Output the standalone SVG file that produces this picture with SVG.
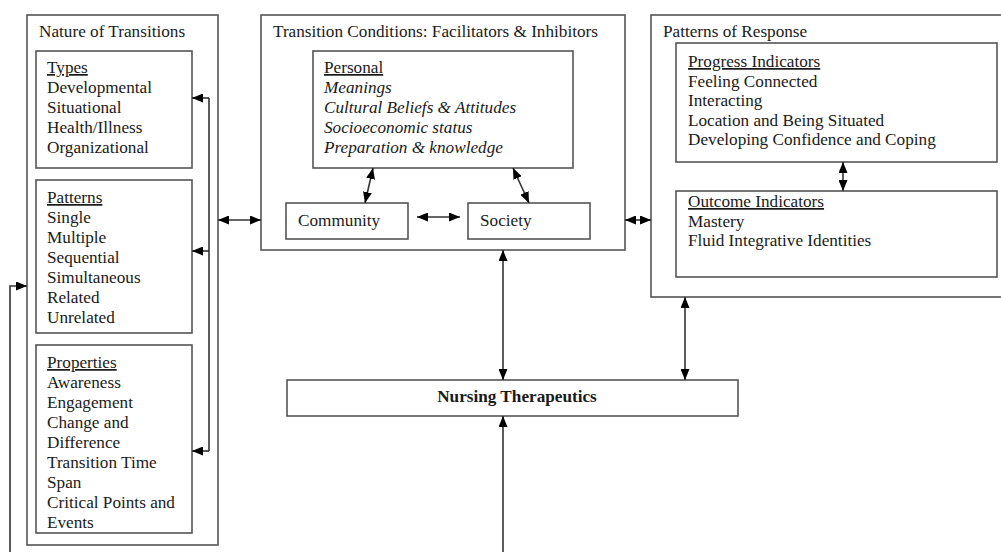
<svg xmlns="http://www.w3.org/2000/svg" width="1001" height="552" viewBox="0 0 1001 552">
<style>
text{font-family:"Liberation Serif","Times New Roman",serif;font-size:17.2px;fill:#1a1a1a}
.box{fill:#fff;stroke:#555;stroke-width:1.6}
.u{text-decoration:underline}
.it{font-style:italic}
.b{font-weight:bold}
.c line,.c path{stroke:#333;stroke-width:1.6;fill:none}
</style>
<defs>
<marker id="ah" viewBox="0 0 11 9" refX="11" refY="4.5" markerWidth="11" markerHeight="9" markerUnits="userSpaceOnUse" orient="auto-start-reverse">
<path d="M0,0 L11,4.5 L0,9 z" fill="#000"/>
</marker>
</defs>
<rect width="1001" height="552" fill="#fff"/>

<g id="nature">
<rect class="box" x="27" y="15" width="191" height="530"/>
<text x="39" y="37">Nature of Transitions</text>
</g>
<g id="types">
<rect class="box" x="36" y="51" width="156" height="117"/>
<text x="47" y="73"><tspan class="u">Types</tspan><tspan x="47" dy="20">Developmental</tspan><tspan x="47" dy="20">Situational</tspan><tspan x="47" dy="20">Health/Illness</tspan><tspan x="47" dy="20">Organizational</tspan></text>
</g>
<g id="patterns">
<rect class="box" x="36" y="180" width="156" height="153"/>
<text x="47" y="203"><tspan class="u">Patterns</tspan><tspan x="47" dy="20">Single</tspan><tspan x="47" dy="20">Multiple</tspan><tspan x="47" dy="20">Sequential</tspan><tspan x="47" dy="20">Simultaneous</tspan><tspan x="47" dy="20">Related</tspan><tspan x="47" dy="20">Unrelated</tspan></text>
</g>
<g id="properties">
<rect class="box" x="36" y="345" width="156" height="188"/>
<text x="47" y="368"><tspan class="u">Properties</tspan><tspan x="47" dy="20">Awareness</tspan><tspan x="47" dy="20">Engagement</tspan><tspan x="47" dy="20">Change and</tspan><tspan x="47" dy="20">Difference</tspan><tspan x="47" dy="20">Transition Time</tspan><tspan x="47" dy="20">Span</tspan><tspan x="47" dy="20">Critical Points and</tspan><tspan x="47" dy="20">Events</tspan></text>
</g>

<g id="conditions">
<rect class="box" x="261" y="15" width="364" height="235"/>
<text x="273" y="37">Transition Conditions: Facilitators &amp; Inhibitors</text>
</g>
<g id="personal">
<rect class="box" x="313" y="51" width="260" height="117"/>
<text x="324" y="73"><tspan class="u">Personal</tspan><tspan class="it" x="324" dy="20">Meanings</tspan><tspan class="it" x="324" dy="20">Cultural Beliefs &amp; Attitudes</tspan><tspan class="it" x="324" dy="20">Socioeconomic status</tspan><tspan class="it" x="324" dy="20">Preparation &amp; knowledge</tspan></text>
</g>
<g id="community">
<rect class="box" x="286" y="203" width="122" height="36"/>
<text x="298" y="226">Community</text>
</g>
<g id="society">
<rect class="box" x="468" y="203" width="122" height="36"/>
<text x="480" y="226">Society</text>
</g>

<g id="response">
<rect class="box" x="651" y="15" width="360" height="282"/>
<text x="663" y="37">Patterns of Response</text>
</g>
<g id="progress">
<rect class="box" x="676" y="43" width="321" height="119"/>
<text x="688" y="67"><tspan class="u">Progress Indicators</tspan><tspan x="688" dy="19.5">Feeling Connected</tspan><tspan x="688" dy="19.5">Interacting</tspan><tspan x="688" dy="19.5">Location and Being Situated</tspan><tspan x="688" dy="19.5">Developing Confidence and Coping</tspan></text>
</g>
<g id="outcome">
<rect class="box" x="676" y="191" width="321" height="86"/>
<text x="688" y="207"><tspan class="u">Outcome Indicators</tspan><tspan x="688" dy="19.5">Mastery</tspan><tspan x="688" dy="19.5">Fluid Integrative Identities</tspan></text>
</g>

<g id="nursing">
<rect class="box" x="287" y="380" width="451" height="36"/>
<text class="b" x="517" y="402" text-anchor="middle">Nursing Therapeutics</text>
</g>

<g id="connectors" class="c">
<line x1="209" y1="98" x2="209" y2="451"/>
<line x1="209" y1="98" x2="192" y2="98" marker-end="url(#ah)"/>
<line x1="209" y1="251" x2="192" y2="251" marker-end="url(#ah)"/>
<line x1="209" y1="451" x2="192" y2="451" marker-end="url(#ah)"/>
<path d="M10,552 V286 H27" marker-end="url(#ah)"/>
<line x1="218" y1="220" x2="261" y2="220" marker-start="url(#ah)" marker-end="url(#ah)"/>
<line x1="625" y1="220" x2="651" y2="220" marker-start="url(#ah)" marker-end="url(#ah)"/>
<line x1="373" y1="168" x2="365" y2="203" marker-start="url(#ah)" marker-end="url(#ah)"/>
<line x1="513" y1="168" x2="529" y2="203" marker-start="url(#ah)" marker-end="url(#ah)"/>
<line x1="417" y1="217" x2="460" y2="217" marker-start="url(#ah)" marker-end="url(#ah)"/>
<line x1="843" y1="162" x2="843" y2="191" marker-start="url(#ah)" marker-end="url(#ah)"/>
<line x1="503" y1="250" x2="503" y2="380" marker-start="url(#ah)" marker-end="url(#ah)"/>
<line x1="685" y1="297" x2="685" y2="380" marker-start="url(#ah)" marker-end="url(#ah)"/>
<line x1="503" y1="552" x2="503" y2="416" marker-end="url(#ah)"/>
</g>
</svg>
